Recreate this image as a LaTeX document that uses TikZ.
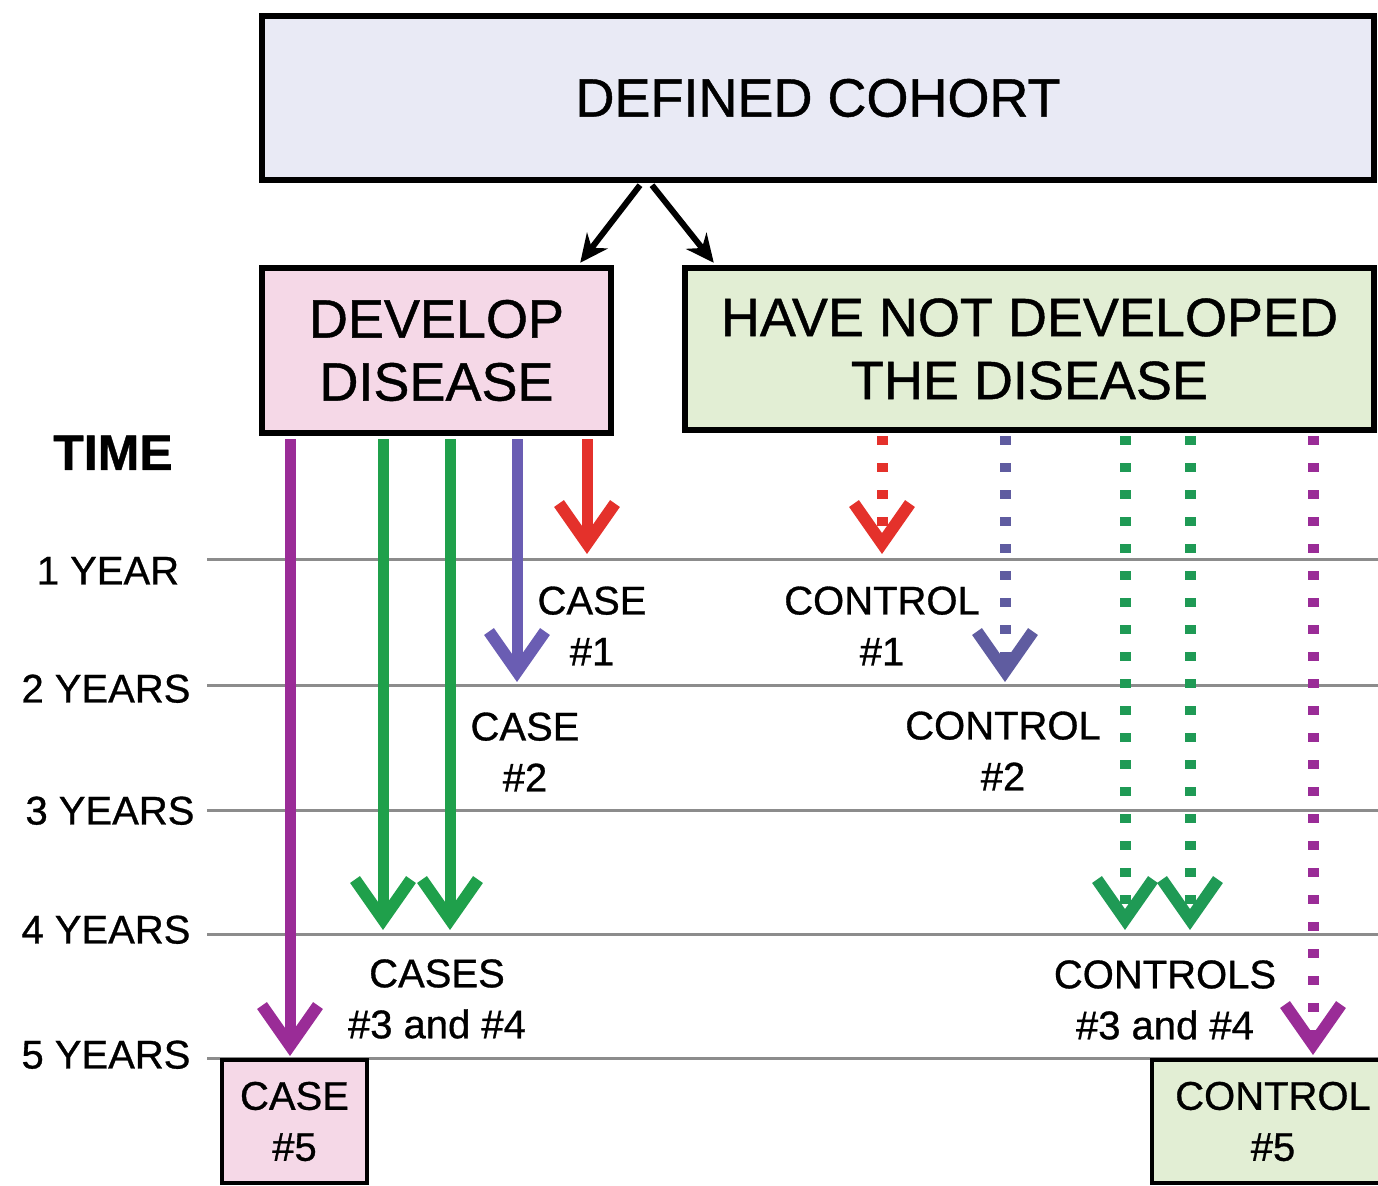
\documentclass[tikz,border=0pt]{standalone}
\usepackage{fontspec}
\setmainfont{Liberation Sans}[FakeBold=0.8]
\usetikzlibrary{arrows.meta}
\definecolor{cred}{HTML}{E4312B}
\definecolor{cblue}{HTML}{6A5DB3}
\definecolor{cblued}{HTML}{5F5CA0}
\definecolor{cgreen}{HTML}{1FA04B}
\definecolor{cgreend}{HTML}{1F9A55}
\definecolor{cpurple}{HTML}{9A2C97}
\definecolor{fillblue}{HTML}{E9EAF5}
\definecolor{fillpink}{HTML}{F5D8E7}
\definecolor{fillgreen}{HTML}{E2EED4}
\definecolor{linegray}{HTML}{8C8C8C}
\begin{document}
\begin{tikzpicture}[x=0.5pt,y=-0.5pt,
  bigbox/.style={draw=black, line width=3.2pt, inner sep=0pt, font=\fontsize{27}{31.5}\selectfont, align=center},
  smallbox/.style={draw=black, line width=2pt, inner sep=0pt, font=\fontsize{20}{25.5}\selectfont, align=center},
  lbl/.style={font=\fontsize{20}{25.5}\selectfont, align=center, inner sep=0pt},
  yr/.style={font=\fontsize{20}{24}\selectfont, inner sep=0pt, anchor=base},
  yearline/.style={draw=linegray, line width=1.5pt},
  shaft/.style={line width=5.5pt, -{Straight Barb[length=20pt,width=28pt,line width=6pt]}},
  dotline/.style={line width=5.5pt, dash pattern=on 4.5pt off 9pt},
  dots/.style={shaft, dash pattern=on 4.5pt off 9pt},
  down/.style={line width=3pt, -{Stealth[length=14pt,width=13pt]}}
]
\useasboundingbox (0,0) rectangle (1378,1186);
\clip (0,0) rectangle (1378,1186);
\fill[white] (0,0) rectangle (1378,1186);

% time lines
\foreach \yy in {560,686,811,935,1059} \draw[yearline] (207,\yy) -- (1390,\yy);

% boxes
\node[bigbox, fill=fillblue, minimum width=556pt, minimum height=82pt] (cohort) at (818,98) {DEFINED COHORT};
\node[bigbox, fill=fillpink, minimum width=174.5pt, minimum height=82.5pt] (dev) at (436.5,350.5) {DEVELOP\\DISEASE};
\node[bigbox, fill=fillgreen, minimum width=344.5pt, minimum height=81pt] (notdev) at (1029.5,349) {HAVE NOT DEVELOPED\\THE DISEASE};
\node[smallbox, fill=fillpink, minimum width=72.5pt, minimum height=61.5pt] (case5) at (294.5,1121.5) {CASE\\\#5};
\node[smallbox, fill=fillgreen, minimum width=121pt, minimum height=61.5pt] (ctrl5) at (1273,1121.5) {CONTROL\\\#5};

% time labels
\node[yr, font=\bfseries\fontsize{25}{30}\selectfont] (time) at (113,470) {TIME};
\node[yr] (y1) at (108,584.5) {1 YEAR};
\node[yr] (y2) at (106,702.5) {2 YEARS};
\node[yr] (y3) at (110,824.5) {3 YEARS};
\node[yr] (y4) at (106,943.5) {4 YEARS};
\node[yr] (y5) at (106,1068.5) {5 YEARS};

% labels
\node[lbl] (lc1) at (592,626) {CASE\\\#1};
\node[lbl] (lc2) at (525,752) {CASE\\\#2};
\node[lbl] (lc34) at (437,999) {CASES\\\#3 and \#4};
\node[lbl] (lk1) at (882,626) {CONTROL\\\#1};
\node[lbl] (lk2) at (1003,751) {CONTROL\\\#2};
\node[lbl] (lk34) at (1165,1000) {CONTROLS\\\#3 and \#4};

% split arrows
\draw[down] ([xshift=-89pt,yshift=-1pt]cohort.south) -- ([xshift=-17pt,yshift=1pt]dev.north east);
\draw[down] ([xshift=-83pt,yshift=-1pt]cohort.south) -- ([xshift=16pt,yshift=1pt]notdev.north west);

% tips
\coordinate (a5) at (290,1056);
\coordinate (a3) at (383,930);
\coordinate (a4) at (450,930);
\coordinate (a2) at (517,682);
\coordinate (a1) at (587,554);
\coordinate (b1) at (882,554);
\coordinate (b2) at (1005,682);
\coordinate (b3) at (1125,930);
\coordinate (b4) at (1190,930);
\coordinate (b5) at (1313,1055);

% case arrows
\draw[shaft, cpurple] ([yshift=-1.6pt]dev.south -| a5) -- (a5);
\draw[shaft, cgreen] ([yshift=-1.6pt]dev.south -| a3) -- (a3);
\draw[shaft, cgreen] ([yshift=-1.6pt]dev.south -| a4) -- (a4);
\draw[shaft, cblue] ([yshift=-1.6pt]dev.south -| a2) -- (a2);
\draw[shaft, cred] ([yshift=-1.6pt]dev.south -| a1) -- (a1);

% control arrows (dotted shafts run into the heads)
\foreach \t/\c in {b1/cred, b2/cblued, b3/cgreend, b4/cgreend, b5/cpurple} {
  \draw[dotline, \c] ([yshift=-1.6pt]notdev.south -| \t) -- ([yshift=4pt]\t);
  \draw[dots, \c] ([yshift=-1.6pt]notdev.south -| \t) -- (\t);
}
\end{tikzpicture}
\end{document}
